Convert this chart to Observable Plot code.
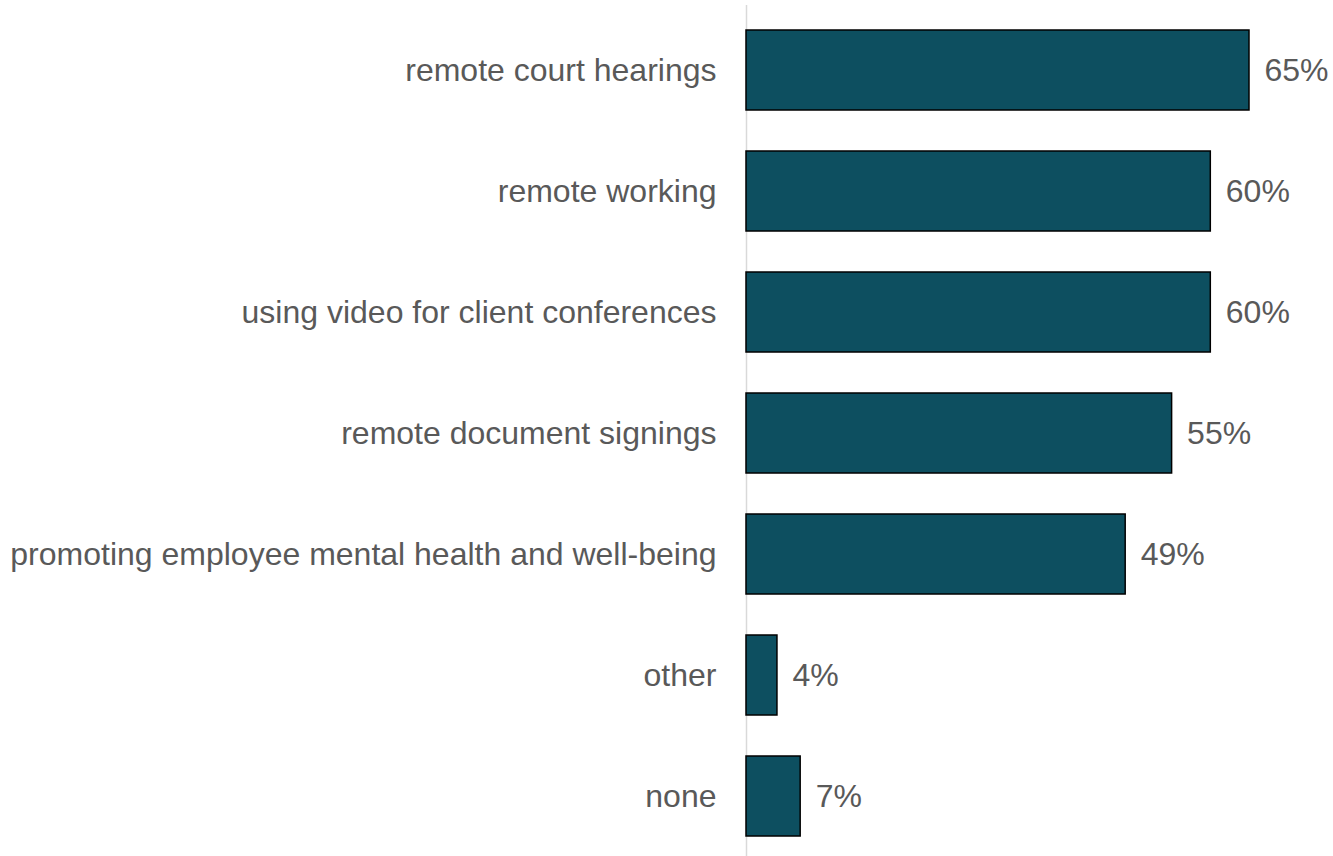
<!DOCTYPE html>
<html>
<head>
<meta charset="utf-8">
<script src="https://cdn.jsdelivr.net/npm/d3@7"></script>
<script src="https://cdn.jsdelivr.net/npm/@observablehq/plot@0.6"></script>
<style>
  html, body { margin: 0; padding: 0; background: #fff; }
  #chart svg { display: block; }
</style>
</head>
<body>
<div id="chart"></div>
<script>
const categories = [
  "remote court hearings",
  "remote working",
  "using video for client conferences",
  "remote document signings",
  "promoting employee mental health and well-being",
  "other",
  "none"
];
const values = [65, 60, 60, 55, 49, 4, 7];
const valueLabels = ["65%", "60%", "60%", "55%", "49%", "4%", "7%"];

const data = categories.map((c, i) => ({category: c, value: values[i], label: valueLabels[i]}));

const chart = Plot.plot({
  width: 1333,
  height: 856,
  marginLeft: 746,
  marginRight: 84,
  marginTop: 10,
  marginBottom: 0,
  style: {fontFamily: "'Liberation Sans', Arial, sans-serif", background: "#fff"},
  x: {domain: [0, 65], axis: null},
  y: {domain: categories, axis: null, paddingInner: 0.335, paddingOuter: 0.137},
  marks: [
    Plot.ruleX([0], {stroke: "#d9d9d9", strokeWidth: 1.5, insetTop: -5}),
    Plot.barX(data, {x: "value", y: "category", fill: "#0d4f60", stroke: "#000", strokeWidth: 1.5}),
    Plot.text(data, {x: 0, y: "category", text: "category", textAnchor: "end", dx: -30, fontSize: 32, fill: "#595959"}),
    Plot.text(data, {x: "value", y: "category", text: "label", textAnchor: "start", dx: 15, fontSize: 32, fill: "#595959"})
  ]
});
document.getElementById("chart").appendChild(chart);
</script>
</body>
</html>
